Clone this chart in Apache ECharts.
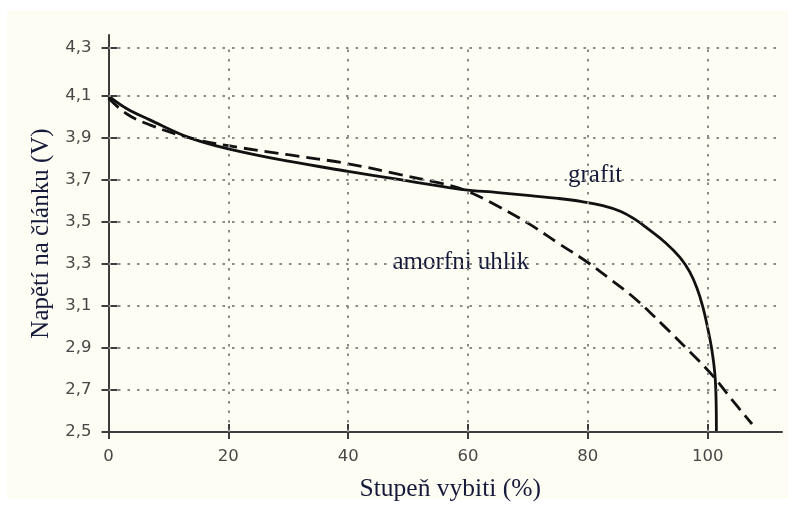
<!DOCTYPE html>
<html>
<head>
<meta charset="utf-8">
<script src="https://cdn.jsdelivr.net/npm/echarts@6/dist/echarts.min.js"></script>
<style>
  html, body { margin: 0; padding: 0; background: #ffffff; }
  #paper { position: absolute; left: 7px; top: 11px; width: 781px; height: 488px; background: #fdfdf3; }
  #chart { position: absolute; left: 0; top: 0; width: 788px; height: 507px; }
</style>
</head>
<body>
<div id="paper"></div>
<div id="chart"></div>
<script>
// x = degree of discharge (%), y = cell voltage (V)
const grafitX = [0, 3, 6.9, 13.6, 20, 30, 40, 48.7, 54, 59.2, 65, 70.4, 75, 79, 82.5, 85.4, 88, 90, 93, 95.4, 97, 98.2, 99.2, 100, 100.7, 101.2, 101.4, 101.45];
const grafitY = [4.10, 4.04, 3.986, 3.90, 3.848, 3.789, 3.741, 3.701, 3.677, 3.654, 3.64, 3.625, 3.612, 3.597, 3.578, 3.551, 3.51, 3.468, 3.40, 3.33, 3.262, 3.185, 3.095, 2.995, 2.89, 2.775, 2.65, 2.505];

const amorfX = [0, 3, 6.9, 13.6, 20, 30, 40, 48.7, 55, 59.2, 65, 70.4, 75, 80, 84, 88, 92.5, 97.1, 100.9, 104, 107.4];
const amorfY = [4.09, 4.015, 3.962, 3.90, 3.863, 3.82, 3.777, 3.725, 3.687, 3.654, 3.575, 3.487, 3.40, 3.307, 3.222, 3.132, 3.01, 2.88, 2.766, 2.655, 2.538];

const xTicks = [0, 20, 40, 60, 80, 100];
const xGridLines = [20, 40, 60, 80, 100];
// the top tick of the original sits a little higher than the regular step
const yTicks = [2.5, 2.7, 2.9, 3.1, 3.3, 3.5, 3.7, 3.9, 4.1, 4.328];
const yTickLabels = ["2,5", "2,7", "2,9", "3,1", "3,3", "3,5", "3,7", "3,9", "4,1", "4,3"];
const yGridLines = [2.7, 2.9, 3.1, 3.3, 3.5, 3.7, 3.9, 4.1, 4.328];

const xMin = 0, xMax = 112.4, yMin = 2.5, yMax = 4.39;
const gridRight = 112.2;

const noteText = ["grafit", "amorfni uhlik"];
const noteX = [81.2, 58.8];
const noteY = [3.7225, 3.309];

const serif = '"Liberation Serif", "DejaVu Serif", serif';
const sans = '"DejaVu Sans", "Liberation Sans", sans-serif';
const textNavy = "#161a3a";
const axisColor = "#3c3c3c";
const dotLine = { color: "#8a8a8a", width: 2, type: [2.5, 7] };

const pairs = (xs, ys) => xs.map((x, i) => [x, ys[i]]);

const gridLines = [
  ...xGridLines.map((x) => [{ coord: [x, yMin] }, { coord: [x, yTicks[yTicks.length - 1]] }]),
  ...yGridLines.map((y) => [{ coord: [xMin, y] }, { coord: [gridRight, y] }]),
];

const chart = echarts.init(document.getElementById("chart"));

const xBase = {
  type: "value", min: xMin, max: xMax, position: "bottom",
  splitLine: { show: false },
};
const yBase = {
  type: "value", min: yMin, max: yMax, position: "left",
  splitLine: { show: false },
};

chart.setOption({
  animation: false,
  grid: { left: 108.5, right: 6, top: 35, bottom: 74 },
  xAxis: [
    {
      ...xBase,
      name: "Stupeň vybiti (%)",
      nameLocation: "middle",
      nameGap: 44,
      nameTextStyle: { fontFamily: serif, fontSize: 25.5, color: textNavy, padding: [0, 0, 0, 10] },
      axisLine: { show: true, lineStyle: { color: axisColor, width: 2 } },
      axisTick: { show: true, customValues: xTicks, length: 7, lineStyle: { color: axisColor, width: 2 } },
      axisLabel: { customValues: xTicks, margin: 16, color: "#474747", fontSize: 16.5, fontFamily: sans },
    },
    {
      ...xBase,
      axisLine: { show: false },
      axisTick: { show: true, inside: true, customValues: xTicks, length: 8, lineStyle: { color: axisColor, width: 2 } },
      axisLabel: { show: false },
    },
  ],
  yAxis: [
    {
      ...yBase,
      name: "Napětí na článku (V)",
      nameLocation: "middle",
      nameGap: 50,
      nameRotate: 90,
      nameTextStyle: { fontFamily: serif, fontSize: 25, color: textNavy },
      axisLine: { show: true, lineStyle: { color: axisColor, width: 2 } },
      axisTick: { show: true, customValues: yTicks, length: 7, lineStyle: { color: axisColor, width: 2 } },
      axisLabel: {
        customValues: yTicks,
        margin: 17,
        color: "#474747",
        fontSize: 16.5,
        fontFamily: sans,
        formatter: (v) => {
          const i = yTicks.findIndex((t) => Math.abs(t - v) < 1e-6);
          return i >= 0 ? yTickLabels[i] : "";
        },
      },
    },
    {
      ...yBase,
      axisLine: { show: false },
      axisTick: { show: true, inside: true, customValues: yTicks, length: 9, lineStyle: { color: axisColor, width: 2 } },
      axisLabel: { show: false },
    },
  ],
  series: [
    {
      name: "grid",
      type: "line",
      data: [],
      silent: true,
      markLine: {
        silent: true,
        symbol: ["none", "none"],
        label: { show: false },
        lineStyle: dotLine,
        emphasis: { disabled: true },
        data: gridLines,
      },
    },
    {
      name: "amorfni uhlik",
      type: "line",
      data: pairs(amorfX, amorfY),
      showSymbol: false,
      smooth: 0.4,
      lineStyle: { color: "#111", width: 2.8, type: [14, 7] },
    },
    {
      name: "grafit",
      type: "line",
      data: pairs(grafitX, grafitY),
      showSymbol: false,
      smooth: 0.4,
      lineStyle: { color: "#111", width: 2.8 },
    },
    {
      name: "notes",
      type: "scatter",
      symbolSize: 0,
      silent: true,
      itemStyle: { opacity: 1 },
      data: noteText.map((t, i) => ({ value: [noteX[i], noteY[i]], name: t })),
      label: {
        show: true,
        position: "inside",
        formatter: (p) => p.name,
        fontFamily: serif,
        fontSize: 25,
        color: textNavy,
        opacity: 1,
      },
    },
  ],
});
</script>
</body>
</html>
